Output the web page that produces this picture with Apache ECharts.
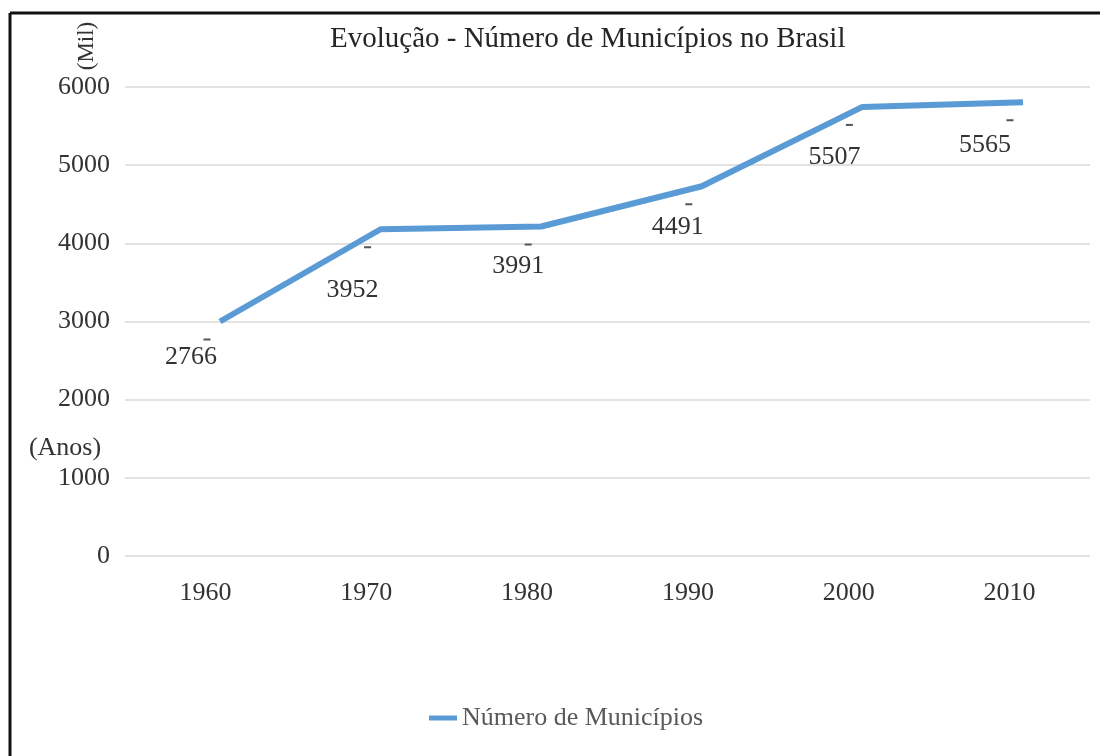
<!DOCTYPE html>
<html>
<head>
<meta charset="utf-8">
<title>Evolução - Número de Municípios no Brasil</title>
<script src="https://cdn.jsdelivr.net/npm/echarts@6/dist/echarts.min.js"></script>
<style>
    html, body { margin: 0; padding: 0; background: #fff; }
    #chart { width: 1100px; height: 756px; }
</style>
</head>
<body>
<div id="chart"></div>
<script>
// data
var years = ['1960', '1970', '1980', '1990', '2000', '2010'];
var plotted = [3000, 4180, 4215, 4730, 5745, 5805];   // where the line is drawn
var printed = [2766, 3952, 3991, 4491, 5507, 5565];   // the numbers written beside it
var yTicks = [0, 1000, 2000, 3000, 4000, 5000, 6000];

// label nudges (relative to the little dash mark)
var labelShift = [[-16, 18], [-15, 43], [-10, 22], [-11, 23], [-15, 32], [-25, 25]];

var FONT = '"Liberation Serif", "Times New Roman", serif';
var BLUE = '#5b9bd5';

var chart = echarts.init(document.getElementById('chart'));

var seriesData = plotted.map(function (v, i) {
    return {
        value: v,
        label: { offset: labelShift[i] }
    };
});

chart.setOption({
    animation: false,
    title: {
        text: 'Evolução - Número de Municípios no Brasil',
        left: 330,
        top: 25,
        padding: 0,
        textStyle: { fontFamily: FONT, fontSize: 29, fontWeight: 'normal', color: '#262626' }
    },
    legend: {
        left: 429,
        top: 705,
        padding: 0,
        icon: 'rect',
        itemWidth: 28,
        itemHeight: 5,
        itemGap: 5,
        textStyle: { fontFamily: FONT, fontSize: 26, color: '#595959' },
        data: [{ name: 'Número de Municípios', itemStyle: { color: BLUE } }]
    },
    grid: [
        { left: 125, right: 10, top: 87, bottom: 200 },
        { left: 220, right: 77, top: 87, bottom: 200 }
    ],
    xAxis: [
        {
            type: 'category',
            gridIndex: 0,
            data: years,
            axisLine: { show: false },
            axisTick: { show: false },
            axisLabel: {
                margin: 24,
                fontFamily: FONT,
                fontSize: 26,
                color: '#333'
            }
        },
        {
            type: 'category',
            gridIndex: 1,
            data: years,
            boundaryGap: false,
            show: false
        }
    ],
    yAxis: [
        {
            type: 'value',
            gridIndex: 0,
            min: yTicks[0],
            max: yTicks[yTicks.length - 1],
            interval: 1000,
            axisLine: { show: false },
            axisTick: { show: false },
            axisLabel: {
                margin: 15,
                fontFamily: FONT,
                fontSize: 26,
                color: '#333',
                formatter: function (v) { return String(v); }
            },
            splitLine: { lineStyle: { color: '#d9d9d9', width: 1.5 } }
        },
        {
            type: 'value',
            gridIndex: 1,
            min: yTicks[0],
            max: yTicks[yTicks.length - 1],
            show: false,
            splitLine: { show: false }
        }
    ],
    graphic: [
        // frame (left + top edges only)
        { type: 'line', shape: { x1: 10, y1: 13, x2: 10, y2: 756 }, style: { stroke: '#111', lineWidth: 3 } },
        { type: 'line', shape: { x1: 10, y1: 13, x2: 1100, y2: 13 }, style: { stroke: '#111', lineWidth: 3 } },
        {
            type: 'text',
            x: 87, y: 46,
            rotation: Math.PI / 2,
            style: {
                text: '(Mil)',
                font: '23px ' + FONT,
                fill: '#333',
                align: 'center',
                verticalAlign: 'middle'
            }
        },
        {
            type: 'text',
            x: 65, y: 448,
            style: {
                text: '(Anos)',
                font: '26px ' + FONT,
                fill: '#333',
                align: 'center',
                verticalAlign: 'middle'
            }
        }
    ],
    series: [
        {
            name: 'Número de Municípios',
            type: 'line',
            xAxisIndex: 1,
            yAxisIndex: 1,
            data: seriesData,
            // the small dash drawn above every number
            symbol: 'rect',
            symbolSize: [7, 2],
            symbolOffset: [-13, 18],
            itemStyle: { color: '#555' },
            lineStyle: { color: BLUE, width: 6, cap: 'butt', join: 'bevel' },
            emphasis: { disabled: true },
            label: {
                show: true,
                position: 'inside',
                fontFamily: FONT,
                fontSize: 26,
                color: '#333',
                formatter: function (p) {
                    return printed[p.dataIndex];
                }
            }
        }
    ]
});
</script>
</body>
</html>
